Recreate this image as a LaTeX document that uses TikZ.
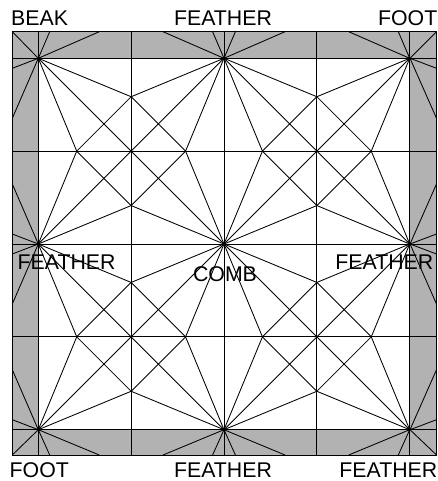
\documentclass[tikz,border=0pt]{standalone}
\usepackage{fontspec}
\setmainfont{Liberation Sans}
\tikzset{
  lbl/.style={inner sep=0pt,font=\fontsize{21.3}{25}\selectfont,text=black},
  ln/.style={draw=black,line width=0.9pt},
  thin ln/.style={draw=black,line width=0.85pt}
}
\begin{document}
\begin{tikzpicture}[x=1pt,y=-1pt]
\useasboundingbox (0,0) rectangle (438,481);
\def\xl{12.3}\def\xr{436.5}\def\yt{31.7}\def\yb{455}
\def\uu{92.85}
\coordinate (TL) at (\xl,\yt);
\coordinate (BR) at (\xr,\yb);
\fill[black!30] (TL) rectangle (BR);
\coordinate (I0) at (38.3,58.3);
\coordinate (I1) at (410,429.7);
\fill[white] (I0) rectangle (I1);
% grid
\foreach \i in {0,...,4}{
  \pgfmathsetmacro\px{38.3+\i*\uu}
  \pgfmathsetmacro\py{58.3+\i*\uu}
  \draw[ln] (\px,\yt) -- (\px,\yb);
  \draw[ln] (\xl,\py) -- (\xr,\py);
}
% interior tiles
\foreach \ta/\tb in {0/0,2/0,0/2,2/2}{
  \pgfmathsetmacro\ox{38.3+\ta*\uu}
  \pgfmathsetmacro\oy{58.3+\tb*\uu}
  \coordinate (A) at (\ox,\oy);
  \coordinate (B) at ({\ox+2*\uu},\oy);
  \coordinate (C) at (\ox,{\oy+2*\uu});
  \coordinate (D) at ({\ox+2*\uu},{\oy+2*\uu});
  \coordinate (N) at ({\ox+\uu},{\oy+0.414*\uu});
  \coordinate (W) at ({\ox+0.414*\uu},{\oy+\uu});
  \coordinate (E) at ({\ox+1.586*\uu},{\oy+\uu});
  \coordinate (S) at ({\ox+\uu},{\oy+1.586*\uu});
  \draw[thin ln] (A) -- (D) (B) -- (C);
  \draw[thin ln] (A) -- (N) -- (B) -- (E) -- (D) -- (S) -- (C) -- (W) -- (A);
  \draw[thin ln] (N) -- (E) -- (S) -- (W) -- cycle;
}
% spokes into the band, toward the right / down
\foreach \h in {0,2}{
  \pgfmathsetmacro\px{38.3+\h*\uu}
  \pgfmathsetmacro\py{58.3+\h*\uu}
  \draw[thin ln] (\px,58.3) -- ({\px+61},\yt) (\px,58.3) -- ({\px+11.4},\yt);
  \draw[thin ln] (\px,429.7) -- ({\px+61},\yb) (\px,429.7) -- ({\px+11.4},\yb);
  \draw[thin ln] (38.3,\py) -- (\xl,{\py+60}) (38.3,\py) -- (\xl,{\py+10});
  \draw[thin ln] (410,\py) -- (\xr,{\py+60}) (410,\py) -- (\xr,{\py+10});
}
% spokes into the band, toward the left / up
\foreach \h in {2,4}{
  \pgfmathsetmacro\px{38.3+\h*\uu}
  \pgfmathsetmacro\py{58.3+\h*\uu}
  \draw[thin ln] (\px,58.3) -- ({\px-61},\yt) (\px,58.3) -- ({\px-11.4},\yt);
  \draw[thin ln] (\px,429.7) -- ({\px-61},\yb) (\px,429.7) -- ({\px-11.4},\yb);
  \draw[thin ln] (38.3,\py) -- (\xl,{\py-60}) (38.3,\py) -- (\xl,{\py-10});
  \draw[thin ln] (410,\py) -- (\xr,{\py-60}) (410,\py) -- (\xr,{\py-10});
}
% corner diagonals
\draw[thin ln] (TL) -- (38.3,58.3);
\draw[thin ln] (\xr,\yt) -- (410,58.3);
\draw[thin ln] (\xl,\yb) -- (38.3,429.7);
\draw[thin ln] (BR) -- (410,429.7);
% frame
\draw[ln] (TL) rectangle (BR);
% labels
\node[lbl,anchor=base west] (beak) at (11,26) {BEAK};
\node[lbl,anchor=base] (ft) at (223,26) {FEATHER};
\node[lbl,anchor=base east] (foot1) at (437.5,26) {FOOT};
\node[lbl,anchor=base west] (fl) at (17.5,269) {FEATHER};
\node[lbl,anchor=base] (comb) at (225,281) {COMB};
\node[lbl,anchor=base east] (fr) at (433.5,269) {FEATHER};
\node[lbl,anchor=base west] (foot2) at (9.5,477) {FOOT};
\node[lbl,anchor=base] (fb) at (223,477) {FEATHER};
\node[lbl,anchor=base east] (fbr) at (437.5,477) {FEATHER};
\end{tikzpicture}
\end{document}
